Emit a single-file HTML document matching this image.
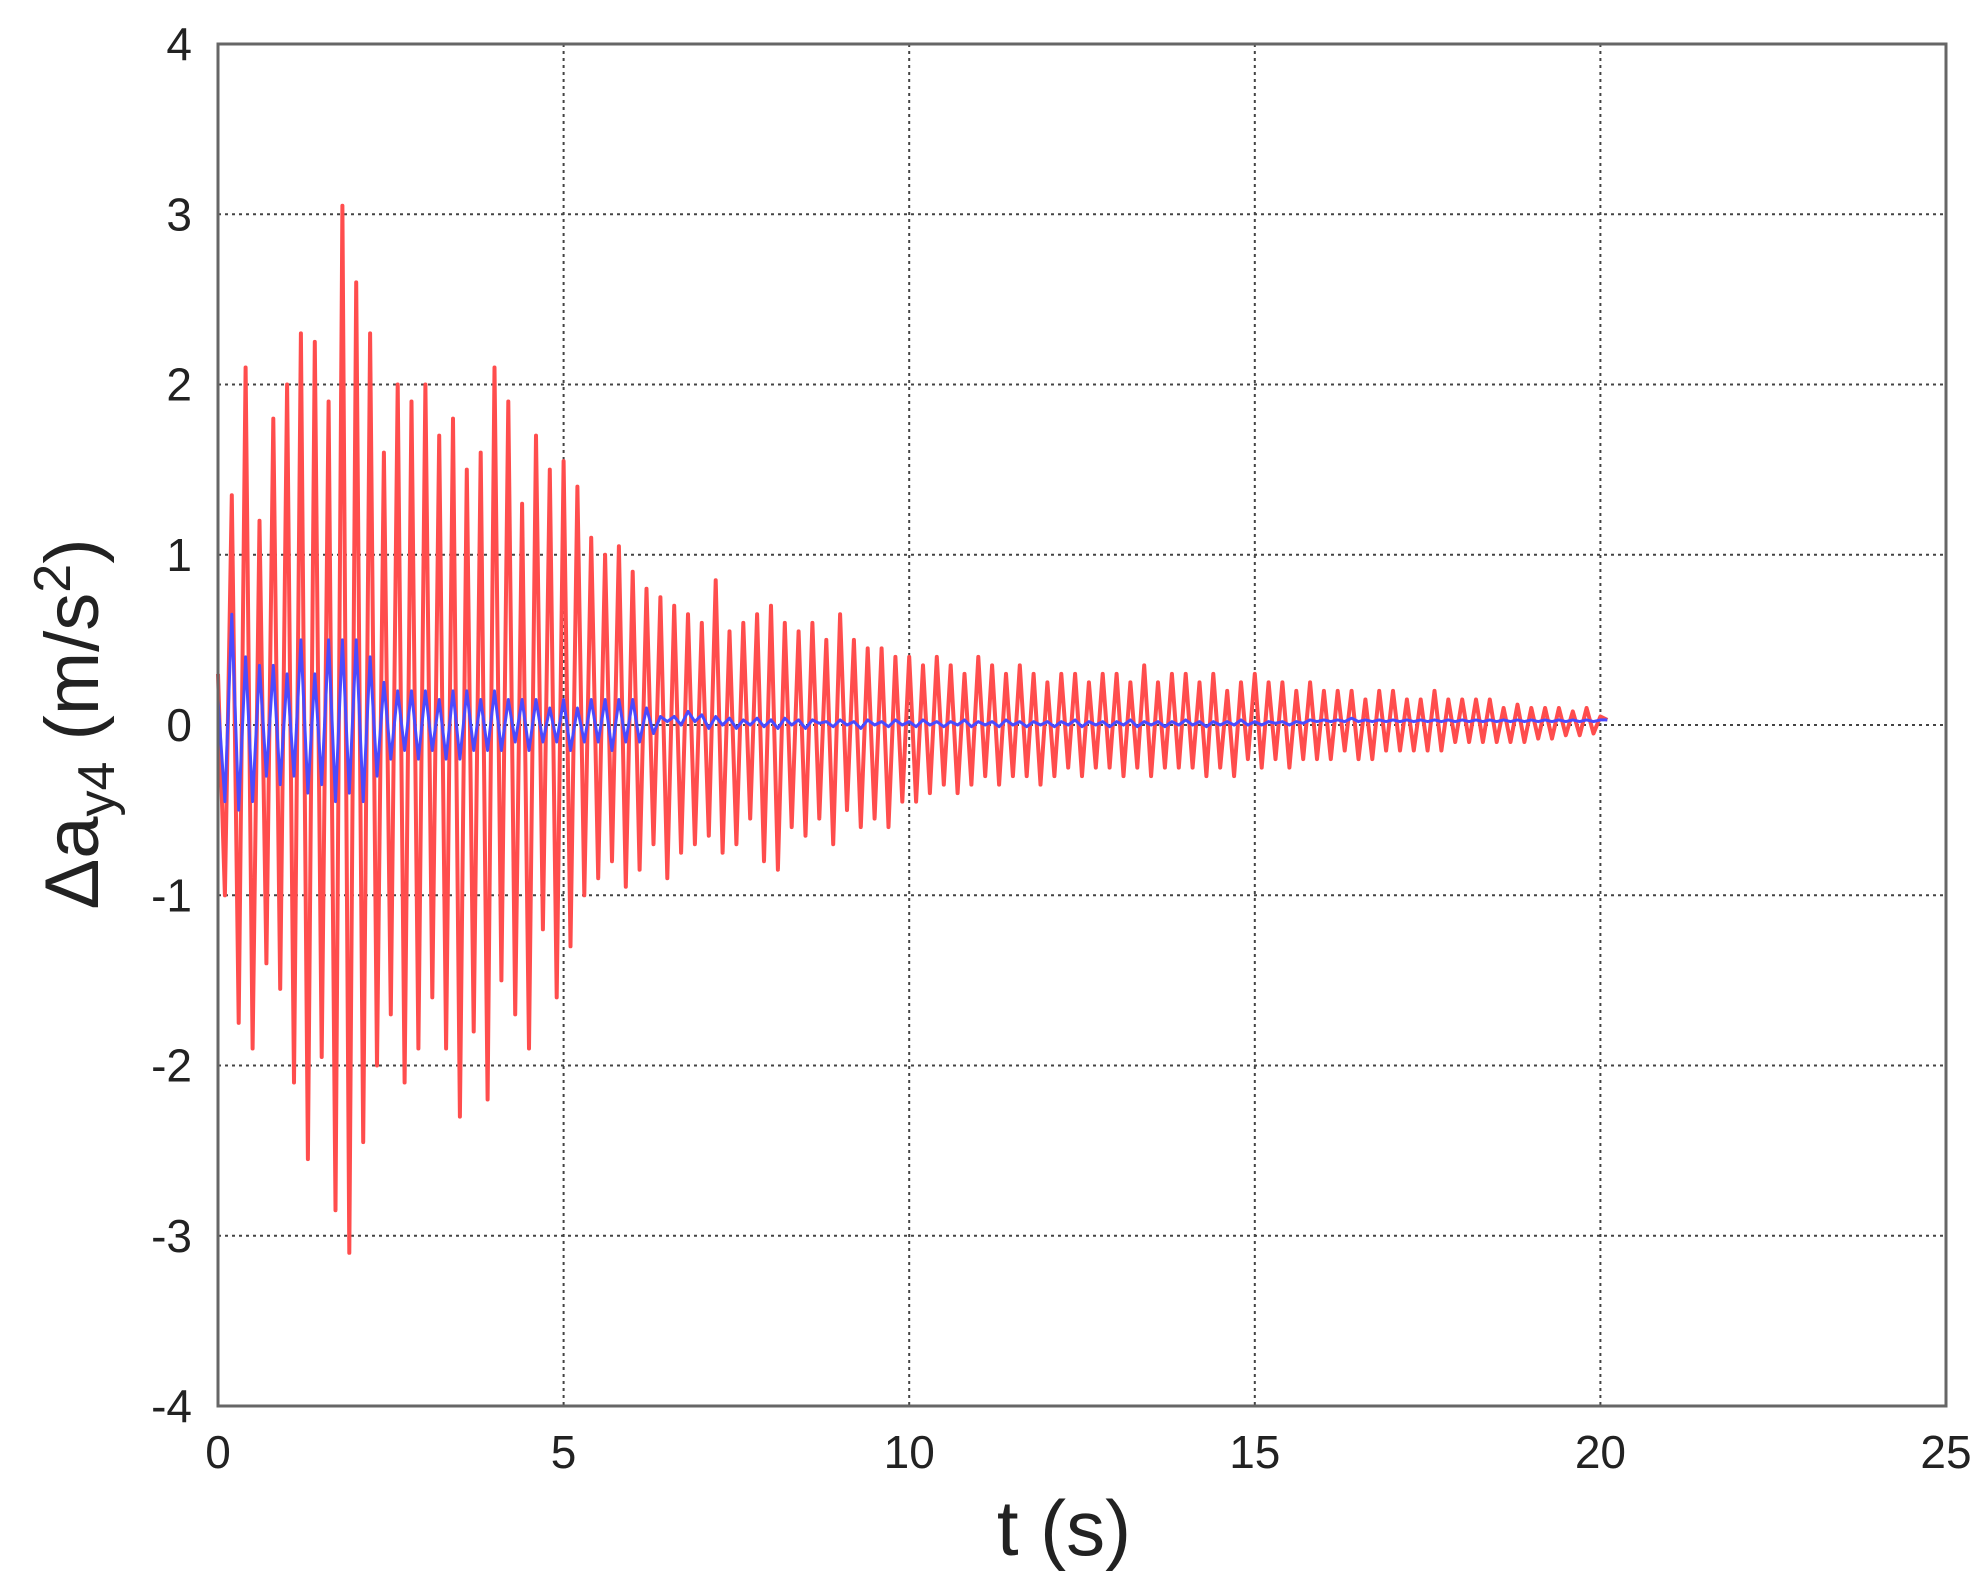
<!DOCTYPE html>
<html><head><meta charset="utf-8"><style>
html,body{margin:0;padding:0;background:#fff;}
svg{display:block;font-family:"Liberation Sans",Arial,sans-serif;}
</style></head><body>
<svg id="chart" width="1982" height="1582" viewBox="0 0 1982 1582">
<g id="grid"></g>
<g id="series"></g>
<rect x="218" y="44" width="1728" height="1362" fill="none" stroke="#666" stroke-width="3"/>
<g id="ticks"></g>
<text x="1064" y="1555" font-size="78" text-anchor="middle" fill="#222">t (s)</text>
<text transform="translate(98,724) rotate(-90)" font-size="76" text-anchor="middle" fill="#222">Δa<tspan font-size="52" dy="16">y4</tspan><tspan dy="-16"> (m/s</tspan><tspan font-size="52" dy="-28">2</tspan><tspan dy="28">)</tspan></text>
</svg>
<script>
const xTicks=[0,5,10,15,20,25];
const yTicks=[-4,-3,-2,-1,0,1,2,3,4];
const dt=0.1;
const redValues=[0.3,-1.0,1.35,-1.75,2.1,-1.9,1.2,-1.4,1.8,-1.55,
2.0,-2.1,2.3,-2.55,2.25,-1.95,1.9,-2.85,3.05,-3.1,
2.6,-2.45,2.3,-2.0,1.6,-1.7,2.0,-2.1,1.9,-1.9,
2.0,-1.6,1.7,-1.9,1.8,-2.3,1.5,-1.8,1.6,-2.2,
2.1,-1.5,1.9,-1.7,1.3,-1.9,1.7,-1.2,1.5,-1.6,
1.55,-1.3,1.4,-1.0,1.1,-0.9,1.0,-0.8,1.05,-0.95,
0.9,-0.85,0.8,-0.7,0.75,-0.9,0.7,-0.75,0.65,-0.7,
0.6,-0.65,0.85,-0.75,0.55,-0.7,0.6,-0.55,0.65,-0.8,
0.7,-0.85,0.6,-0.6,0.55,-0.65,0.6,-0.55,0.5,-0.7,
0.65,-0.5,0.5,-0.6,0.45,-0.55,0.45,-0.6,0.4,-0.45,
0.4,-0.45,0.35,-0.4,0.4,-0.35,0.35,-0.4,0.3,-0.35,
0.4,-0.3,0.35,-0.35,0.3,-0.3,0.35,-0.3,0.3,-0.35,
0.25,-0.3,0.3,-0.25,0.3,-0.3,0.25,-0.25,0.3,-0.25,
0.3,-0.3,0.25,-0.25,0.35,-0.3,0.25,-0.25,0.3,-0.25,
0.3,-0.25,0.25,-0.3,0.3,-0.25,0.2,-0.3,0.25,-0.2,
0.3,-0.25,0.25,-0.2,0.25,-0.25,0.2,-0.2,0.25,-0.2,
0.2,-0.2,0.2,-0.15,0.2,-0.2,0.15,-0.2,0.2,-0.15,
0.2,-0.15,0.15,-0.15,0.15,-0.15,0.2,-0.15,0.15,-0.1,
0.15,-0.1,0.15,-0.1,0.15,-0.1,0.1,-0.1,0.12,-0.1,
0.1,-0.08,0.1,-0.08,0.1,-0.06,0.08,-0.06,0.1,-0.05,0.05,0.03];
const blueValues=[0.15,-0.45,0.65,-0.5,0.4,-0.45,0.35,-0.3,0.35,-0.35,
0.3,-0.3,0.5,-0.4,0.3,-0.35,0.5,-0.45,0.5,-0.4,
0.5,-0.45,0.4,-0.3,0.25,-0.2,0.2,-0.15,0.2,-0.2,
0.2,-0.15,0.15,-0.2,0.2,-0.2,0.2,-0.15,0.15,-0.15,
0.2,-0.15,0.15,-0.1,0.15,-0.15,0.15,-0.1,0.1,-0.1,
0.15,-0.15,0.1,-0.1,0.15,-0.1,0.15,-0.15,0.15,-0.1,
0.15,-0.1,0.1,-0.05,0.05,0.02,0.05,0.0,0.08,0.02,
0.06,-0.02,0.05,0.0,0.04,-0.02,0.03,0.0,0.04,-0.01,
0.03,-0.02,0.04,0.0,0.03,-0.02,0.03,0.01,0.02,-0.01,
0.03,0.0,0.02,-0.02,0.03,0.0,0.02,-0.01,0.03,0.0,
0.02,-0.01,0.03,0.0,0.02,-0.01,0.02,0.0,0.03,-0.01,
0.02,0.0,0.02,-0.01,0.03,0.0,0.02,-0.01,0.02,0.0,
0.02,-0.01,0.02,0.0,0.03,-0.01,0.02,0.0,0.02,-0.01,
0.02,0.0,0.03,-0.01,0.02,0.0,0.02,-0.01,0.02,0.0,
0.03,0.0,0.02,-0.01,0.02,0.0,0.02,0.0,0.03,0.0,
0.02,0.0,0.02,0.01,0.02,0.0,0.02,0.01,0.03,0.02,
0.03,0.02,0.03,0.02,0.04,0.02,0.03,0.02,0.03,0.02,
0.03,0.02,0.03,0.02,0.03,0.02,0.03,0.02,0.03,0.02,
0.03,0.02,0.03,0.02,0.03,0.02,0.03,0.02,0.03,0.02,
0.03,0.02,0.03,0.02,0.03,0.02,0.03,0.02,0.03,0.02,0.03,0.03];
const NS='http://www.w3.org/2000/svg';
const X0=218,X1=1946,Y0=1406,Y1=44;
function xs(t){return X0+(t-0)/(25-0)*(X1-X0);}
function ys(v){return Y0-(v+4)/8*(Y0-Y1);}
const grid=document.getElementById('grid'),ticks=document.getElementById('ticks'),series=document.getElementById('series');
xTicks.forEach(t=>{
 if(t>0&&t<25){const l=document.createElementNS(NS,'line');
 
 
 l.setAttribute('x1',xs(t));l.setAttribute('x2',xs(t));l.setAttribute('y1',Y1);l.setAttribute('y2',Y0);
 l.setAttribute('stroke','#444');l.setAttribute('stroke-width','2');l.setAttribute('stroke-dasharray','3 4');grid.appendChild(l);}
 const tx=document.createElementNS(NS,'text');
 
 
 tx.setAttribute('x',xs(t));tx.setAttribute('y',1468);tx.setAttribute('font-size','46');tx.setAttribute('text-anchor','middle');tx.setAttribute('fill','#222');tx.textContent=t;ticks.appendChild(tx);
});
yTicks.forEach(v=>{
 if(v>-4&&v<4){const l=document.createElementNS(NS,'line');
 
 
 l.setAttribute('x1',X0);l.setAttribute('x2',X1);l.setAttribute('y1',ys(v));l.setAttribute('y2',ys(v));
 l.setAttribute('stroke','#444');l.setAttribute('stroke-width','2');l.setAttribute('stroke-dasharray','3 4');grid.appendChild(l);}
 const tx=document.createElementNS(NS,'text');
 
 
 tx.setAttribute('x',192);tx.setAttribute('y',ys(v)+16);tx.setAttribute('font-size','46');tx.setAttribute('text-anchor','end');tx.setAttribute('fill','#222');tx.textContent=v;ticks.appendChild(tx);
});
function draw(vals,color,w,name){
 const p=document.createElementNS(NS,'polyline');
 
 
 p.setAttribute('points',vals.map((v,i)=>xs(i*dt).toFixed(1)+','+ys(v).toFixed(1)).join(' '));
 p.setAttribute('fill','none');p.setAttribute('stroke',color);p.setAttribute('stroke-width',w);p.setAttribute('stroke-linejoin','round');
 series.appendChild(p);
}
draw(redValues,'#ff4d4d','4','red-series');
draw(blueValues,'#4a4aff','3','blue-series');
</script>
</body></html>
